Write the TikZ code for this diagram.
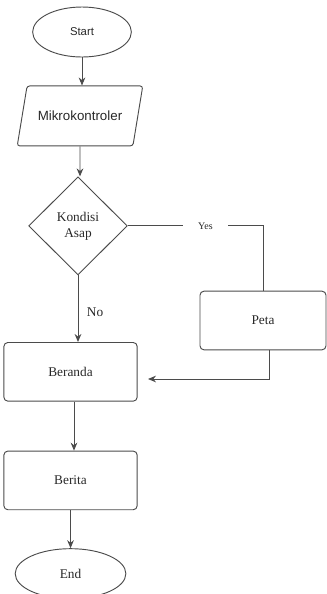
\documentclass[tikz,border=0pt]{standalone}
\usepackage{fontspec}
\setmainfont{Liberation Serif}
\setsansfont{Liberation Sans}
\usepackage{xcolor}
\definecolor{lgray}{RGB}{75,75,75}
\definecolor{tgray}{RGB}{40,40,40}
\usetikzlibrary{arrows.meta,shapes.geometric,positioning}

\begin{document}
\begin{tikzpicture}[
  x=0.75pt,y=-0.75pt,
  term/.style={ellipse,draw=lgray,line width=0.7pt,minimum height=37.5pt,inner sep=0pt,text=tgray},
  iobox/.style={trapezium,trapezium left angle=65,trapezium right angle=115,trapezium stretches=true,draw=lgray,line width=0.7pt,rounded corners=2pt,minimum width=94.5pt,minimum height=45pt,font=\sffamily,text=tgray},
  dbox/.style={diamond,draw=lgray,line width=0.7pt,minimum width=74pt,minimum height=73.5pt,inner sep=0pt,align=center,text=tgray},
  pbox/.style={rectangle,draw=lgray,line width=0.7pt,rounded corners=3pt,minimum width=100pt,minimum height=44pt,text=tgray},
  arrow/.style={-{Stealth[length=6pt,width=5pt]},lgray,line width=0.7pt},
  line/.style={lgray,line width=0.7pt}
]
  \useasboundingbox (0,0) rectangle (327,594);

  \node[term,minimum width=74pt,font=\sffamily\fontsize{8.5}{10}\selectfont] (start) at (82,32) {Start};
  \node[iobox,below=21pt of start,xshift=-1.5pt] (mikro) {Mikrokontroler};
  \node[dbox,below=22.5pt of mikro,xshift=-1.5pt] (kondisi) {Kondisi\\Asap};
  \node[pbox,below=50pt of kondisi,xshift=-5.6pt] (beranda) {Beranda};
  \node[pbox,below=36.75pt of beranda] (berita) {Berita};
  \node[term,minimum width=83pt,below=28.5pt of berita] (end) {End};
  \node[pbox,minimum width=94.5pt] (peta) at (263,320.5) {Peta};
  \coordinate (tip) at (148,379);

  \draw[arrow] (start) -- (start.south |- mikro.north);
  \draw[arrow] (mikro) -- (mikro.south |- kondisi.north);
  \draw[line] (kondisi.east) -| node[pos=0.287,fill=white,inner xsep=11.5pt,text=tgray,font=\fontsize{7.5}{9}\selectfont] {Yes} (peta.north);
  \draw[arrow] (kondisi.south) -- node[right=3pt,pos=0.55,text=tgray] {No} (kondisi.south |- beranda.north);
  \draw[arrow] ([xshift=4.5pt]peta.south) |- (tip);
  \draw[arrow] ([xshift=2.6pt]beranda.south) -- ([xshift=2.6pt]berita.north);
  \draw[arrow] (berita) -- (end);
\end{tikzpicture}
\end{document}
